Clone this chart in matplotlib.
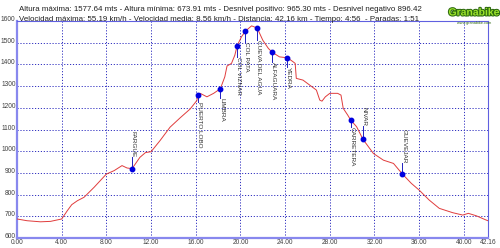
import numpy as np
import matplotlib.pyplot as plt
import matplotlib.patheffects as pe

plt.rcParams['font.family'] = ['Liberation Sans', 'DejaVu Sans']

# elevation profile (km, m)
dist = [0.0, 0.9, 2.1, 3.0, 4.0, 4.5, 4.9, 5.4, 6.0, 6.9, 8.0, 8.7, 9.4, 9.85, 10.3,
        11.0, 11.5, 12.0, 12.8, 13.7, 14.6, 15.5, 16.1, 16.2, 16.4, 17.0, 17.6, 18.2,
        18.6, 18.8, 19.2, 19.5, 19.7, 20.1, 20.45, 21.0, 21.5, 22.0, 22.5, 22.85,
        23.5, 24.2, 24.7, 24.9, 25.0, 25.6, 26.2, 26.8, 27.1, 27.3, 27.6, 28.0,
        28.7, 29.0, 29.2, 29.6, 29.87, 30.4, 30.97, 31.9, 32.8, 33.7, 34.5, 35.3,
        36.0, 36.9, 37.8, 39.0, 39.9, 40.4, 41.1, 42.0, 42.16]
elev = [688, 680, 675, 677, 688, 726, 754, 772, 788, 834, 895, 911, 934, 923, 920,
        972, 994, 998, 1049, 1111, 1154, 1195, 1234, 1260, 1267, 1251, 1267, 1288,
        1343, 1393, 1405, 1443, 1486, 1528, 1554, 1578, 1568, 1512, 1474, 1456,
        1435, 1431, 1413, 1405, 1336, 1328, 1305, 1282, 1236, 1231, 1251, 1267,
        1267, 1259, 1198, 1167, 1144, 1113, 1055, 990, 959, 944, 895, 852,
        821, 775, 737, 717, 706, 714, 703, 683, 680]

# waypoints
wp_names = ['FARGUE', 'PUERTO LOBO', 'LIMBRA', 'COL VIZNAR', 'COL PATA',
            'CUEVA DEL AGUA', 'ALFAGUARA', 'YEDRA', 'CARRETERA', 'NIVAR', 'GUEVEJAR']
wp_km = [10.3, 16.2, 18.2, 19.7, 20.45, 21.5, 22.85, 24.2, 29.87, 30.97, 34.5]
wp_elev = [920, 1260, 1288, 1486, 1554, 1568, 1456, 1431, 1144, 1055, 895]
# label anchor (end of the connector line)
wp_lab = [973, 1228, 1245, 1434, 1503, 1512, 1411, 1387, 1112, 1116, 946]

xticks = [0, 4, 8, 12, 16, 20, 24, 28, 32, 36, 40, 42.16]
yticks = [600, 700, 800, 900, 1000, 1100, 1200, 1300, 1400, 1500, 1600]

header1 = ('Altura máxima: 1577.64 mts - Altura mínima: 673.91 mts - '
           'Desnivel positivo: 965.30 mts - Desnivel negativo 896.42')
header2 = ('Velocidad máxima: 55.19 km/h - Velocidad media: 8.56 km/h - '
           'Distancia: 42.16 km - Tiempo: 4:56  - Paradas: 1:51')

fig = plt.figure(figsize=(5, 2.48), dpi=100)
ax = fig.add_axes([0.034, 0.040, 0.942, 0.875])

ax.plot(dist, elev, color='#e03c3c', lw=0.7, zorder=3)

for name, k, e, le in zip(wp_names, wp_km, wp_elev, wp_lab):
    ax.plot([k, k], [e, le], color='#2020c0', lw=0.7, zorder=4)
    ax.plot(k, e, 'o', color='#0000e0', ms=3.2, zorder=5)
    if le > e:
        ax.text(k - 0.1, le, name, rotation=270, ha='left', va='bottom',
                fontsize=4.6, color='#303030', zorder=6)
    else:
        ax.text(k - 0.1, le, name, rotation=270, ha='left', va='top',
                fontsize=4.6, color='#303030', zorder=6)

ax.set_xlim(0, 42.16)
ax.set_ylim(600, 1600)
ax.set_xticks(xticks)
ax.set_xticklabels(['%.2f' % v for v in xticks])
ax.set_yticks(yticks)
ax.tick_params(length=0, labelsize=4.8, colors='#404040', pad=1)
for lab in ax.get_yticklabels():
    lab.set_va('baseline')
ax.grid(True, color='#3030c0', ls=(0, (1.2, 1.8)), lw=0.7)
for s in ['top', 'right']:
    ax.spines[s].set_color('#6060e0')
    ax.spines[s].set_linewidth(0.8)
for s in ['left', 'bottom']:
    ax.spines[s].set_color('#8888ee')
    ax.spines[s].set_linewidth(1.6)

fig.text(0.038, 0.975, header1, fontsize=5.7, color='#202020', va='top')
fig.text(0.038, 0.935, header2, fontsize=5.7, color='#202020', va='top')

fig.text(0.948, 0.97, 'Granabike', fontsize=7.5, fontweight='bold', color='#9be22a',
         ha='center', va='top',
         path_effects=[pe.withStroke(linewidth=1.5, foreground='#2d6a10')])
fig.text(0.948, 0.915, 'www.granabike.com', fontsize=2.8, color='#2d6a10',
         ha='center', va='top')

fig.savefig('out.png', dpi=100)
